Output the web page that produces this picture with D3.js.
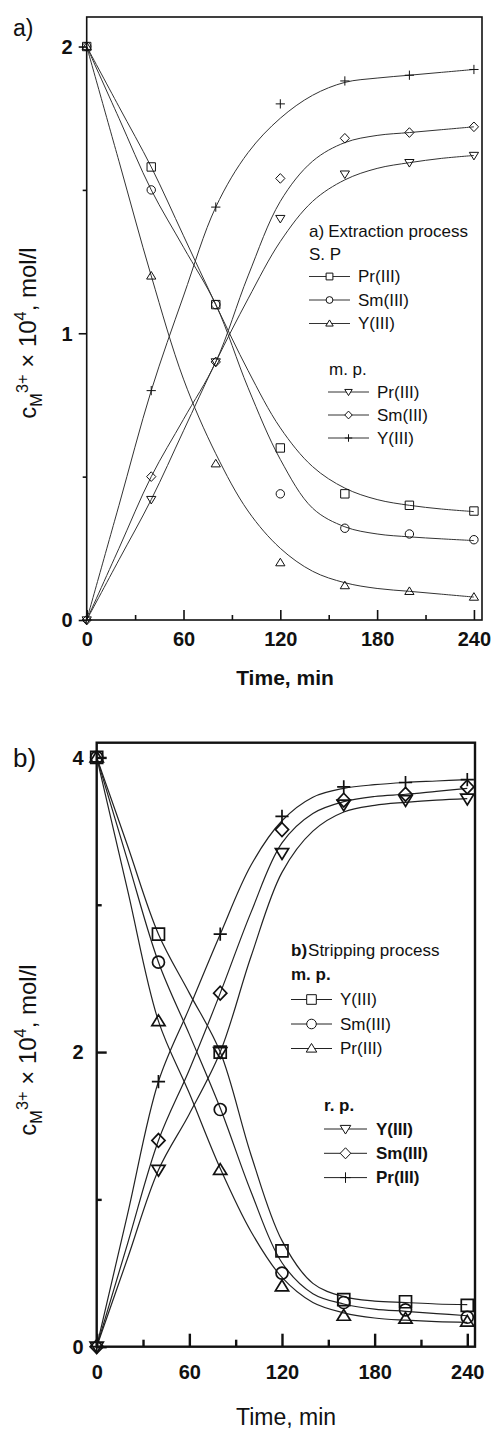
<!DOCTYPE html>
<html><head><meta charset="utf-8">
<script src="https://cdn.jsdelivr.net/npm/d3@7"></script>
<style>
body{margin:0;background:#fff}
svg text{font-family:"Liberation Sans",Arial,Helvetica,sans-serif;fill:#111}
</style>
</head><body>
<svg id="c" width="494" height="1430"></svg>
<script>
// ---------- data ----------
const times = [0, 40, 80, 120, 160, 200, 240];
const fitTimes = [0, 20, 40, 60, 80, 100, 120, 140, 160, 180, 200, 220, 240];
const xTickLabels = [0, 60, 120, 180, 240];
const xMinorTicks = [30, 90, 150, 210];
const aYTicks = [0, 1, 2];
const aYMinor = [0.5, 1.5];
const bYTicks = [0, 2, 4];
const bYMinor = [1, 3];

// panel a) extraction — S. P (descending) and m. p. (ascending)
const aPrSP = [2.00, 1.58, 1.10, 0.60, 0.44, 0.40, 0.38];
const aSmSP = [2.00, 1.50, 1.10, 0.44, 0.32, 0.30, 0.28];
const aYSP  = [2.00, 1.20, 0.545, 0.20, 0.12, 0.10, 0.08];
const aPrMP = [0, 0.42, 0.90, 1.40, 1.555, 1.595, 1.62];
const aSmMP = [0, 0.50, 0.90, 1.54, 1.68, 1.70, 1.72];
const aYMP  = [0, 0.80, 1.44, 1.80, 1.88, 1.90, 1.92];
const aPrSPfit = [2.00, 1.79, 1.58, 1.34, 1.10, 0.87, 0.67, 0.535, 0.46, 0.42, 0.40, 0.387, 0.378];
const aSmSPfit = [2.00, 1.75, 1.50, 1.30, 1.10, 0.81, 0.56, 0.39, 0.325, 0.30, 0.29, 0.283, 0.277];
const aYSPfit  = [2.00, 1.60, 1.20, 0.84, 0.58, 0.38, 0.25, 0.17, 0.13, 0.11, 0.10, 0.09, 0.08];
const aPrMPfit = [0, 0.21, 0.42, 0.66, 0.90, 1.12, 1.32, 1.46, 1.535, 1.575, 1.595, 1.61, 1.62];
const aSmMPfit = [0, 0.25, 0.50, 0.70, 0.90, 1.20, 1.46, 1.60, 1.665, 1.69, 1.70, 1.71, 1.72];
const aYMPfit  = [0, 0.40, 0.80, 1.13, 1.44, 1.63, 1.75, 1.83, 1.875, 1.89, 1.90, 1.91, 1.92];

// panel b) stripping — m. p. (descending) and r. p. (ascending)
const bYMP  = [4, 2.80, 2.00, 0.65, 0.32, 0.305, 0.28];
const bSmMP = [4, 2.61, 1.61, 0.50, 0.30, 0.25, 0.20];
const bPrMP = [4, 2.21, 1.20, 0.41, 0.21, 0.19, 0.17];
const bYRP  = [0, 1.20, 2.00, 3.35, 3.68, 3.71, 3.72];
const bSmRP = [0, 1.40, 2.40, 3.51, 3.71, 3.75, 3.80];
const bPrRP = [0, 1.80, 2.80, 3.60, 3.80, 3.83, 3.85];
const bYMPfit  = [4, 3.40, 2.80, 2.40, 2.00, 1.30, 0.72, 0.43, 0.34, 0.31, 0.30, 0.29, 0.285];
const bSmMPfit = [4, 3.30, 2.61, 2.12, 1.62, 1.05, 0.57, 0.36, 0.29, 0.255, 0.24, 0.225, 0.21];
const bPrMPfit = [4, 3.10, 2.21, 1.72, 1.21, 0.78, 0.47, 0.30, 0.23, 0.195, 0.18, 0.17, 0.165];
const bYRPfit  = [0, 0.60, 1.20, 1.58, 2.00, 2.65, 3.22, 3.50, 3.63, 3.675, 3.695, 3.71, 3.72];
const bSmRPfit = [0, 0.70, 1.40, 1.88, 2.40, 2.95, 3.42, 3.62, 3.70, 3.735, 3.75, 3.77, 3.79];
const bPrRPfit = [0, 0.90, 1.80, 2.30, 2.80, 3.27, 3.57, 3.73, 3.79, 3.815, 3.83, 3.84, 3.85];

const aLegendSP = ["Pr(III)", "Sm(III)", "Y(III)"];
const aLegendMP = ["Pr(III)", "Sm(III)", "Y(III)"];
const bLegendMP = ["Y(III)", "Sm(III)", "Pr(III)"];
const bLegendRP = ["Y(III)", "Sm(III)", "Pr(III)"];

// ---------- helpers ----------
const svg = d3.select("#c");
function sym(type, r) {
  switch (type) {
    case "square": return `M${-r},${-r}H${r}V${r}H${-r}Z`;
    case "circle": return `M${r},0A${r},${r},0,1,1,${-r},0A${r},${r},0,1,1,${r},0Z`;
    case "up": return `M0,${-r*1.05}L${r*1.1},${r*0.75}L${-r*1.1},${r*0.75}Z`;
    case "down": return `M0,${r*1.05}L${r*1.1},${-r*0.75}L${-r*1.1},${-r*0.75}Z`;
    case "diamond": return `M0,${-r*1.15}L${r*1.1},0L0,${r*1.15}L${-r*1.1},0Z`;
    case "plus": return `M${-r*1.1},0H${r*1.1}M0,${-r*1.1}V${r*1.1}`;
  }
}

function drawPanel(p) {
  const g = svg.append("g");
  const x = d3.scaleLinear().domain([0, 245]).range([p.left, p.right]);
  const y = d3.scaleLinear().domain([0, p.ymax]).range([p.bottom, p.top]);
  const line = d3.line().x((d, i) => x(fitTimes[i])).y(d => y(d)).curve(d3.curveCatmullRom.alpha(0.5));

  // fitted curves
  p.series.forEach(s => {
    g.append("path").attr("d", line(s.fit)).attr("fill", "none")
      .attr("stroke", p.lineColor).attr("stroke-width", p.lineW);
  });
  // markers
  p.series.forEach(s => {
    g.selectAll(null).data(s.vals).join("path")
      .attr("transform", (d, i) => `translate(${x(times[i])},${y(d)})`)
      .attr("d", sym(s.type, p.mr)).attr("fill", "none")
      .attr("stroke", "#111").attr("stroke-width", p.mw);
  });

  // axes
  const fs = p.tickFont;
  const xa = g.append("g").attr("transform", `translate(0,${p.bottom})`)
    .call(d3.axisBottom(x).tickValues(xTickLabels).tickSizeInner(-p.xMajor).tickSizeOuter(0).tickPadding(p.xPad));
  const xm = g.append("g").attr("transform", `translate(0,${p.bottom})`)
    .call(d3.axisBottom(x).tickValues(xMinorTicks).tickSizeInner(-p.xMinor).tickSizeOuter(0).tickFormat(""));
  const ya = g.append("g").attr("transform", `translate(${p.left},0)`)
    .call(d3.axisLeft(y).tickValues(p.yTicks).tickSizeInner(p.yMajor).tickSizeOuter(0).tickPadding(p.yPad).tickFormat(d3.format("d")));
  const ym = g.append("g").attr("transform", `translate(${p.left},0)`)
    .call(d3.axisLeft(y).tickValues(p.yMinorTicks).tickSizeInner(p.yMinor).tickSizeOuter(0).tickFormat(""));
  [xa, xm, ya, ym].forEach(a => {
    a.select(".domain").remove();
    a.selectAll("line").attr("stroke", "#111").attr("stroke-width", p.frameW);
    a.selectAll("text").attr("font-size", fs).attr("font-weight", "bold")
      .attr("fill", "#111").style("font-family", '"Liberation Sans",Arial,sans-serif');
  });
  ya.selectAll("text").attr("dy", "0.34em");

  // frame
  g.append("rect").attr("x", p.left).attr("y", p.top)
    .attr("width", p.right - p.left).attr("height", p.bottom - p.top)
    .attr("fill", "none").attr("stroke", "#111").attr("stroke-width", p.frameW);

  // axis titles
  g.append("text").attr("x", p.xTitleX).attr("y", p.xTitleY).attr("text-anchor", "middle")
    .attr("font-size", p.xTitleSize).attr("font-weight", p.xTitleWeight).text("Time, min");
  const yt = g.append("text").attr("transform", `translate(${p.yTitleX},${p.yTitleY}) rotate(-90)`)
    .attr("text-anchor", "middle").attr("font-size", p.yTitleSize);
  yt.append("tspan").text("c");
  yt.append("tspan").attr("dy", 6).attr("font-size", p.yTitleSize * 0.68).text("M");
  yt.append("tspan").attr("dy", -14).attr("font-size", p.yTitleSize * 0.68).text("3+");
  yt.append("tspan").attr("dy", 8).text(" \u00d7 10");
  yt.append("tspan").attr("dy", -10).attr("font-size", p.yTitleSize * 0.68).text("4");
  yt.append("tspan").attr("dy", 10).text(", mol/l");

  // panel label
  g.append("text").attr("x", 13).attr("y", p.labelY).attr("font-size", p.labelSize).text(p.label);

  // legend
  const L = p.legend;
  const lg = g.append("g");
  const title = lg.append("text").attr("x", L.titleX).attr("y", L.titleY).attr("font-size", L.fs);
  title.append("tspan").attr("font-weight", L.titleBold ? "bold" : "normal").text(L.titleA);
  title.append("tspan").attr("dx", L.titleGap).text(L.titleB);
  L.groups.forEach(gr => {
    lg.append("text").attr("x", gr.hx).attr("y", gr.hy).attr("font-size", L.fs)
      .attr("font-weight", gr.headBold ? "bold" : "normal").text(gr.head);
    gr.labels.forEach((lab, i) => {
      const by = gr.y0 + i * gr.dy;
      lg.append("line").attr("x1", gr.x1).attr("x2", gr.x2).attr("y1", by - 5.5).attr("y2", by - 5.5)
        .attr("stroke", p.lineColor).attr("stroke-width", 1);
      lg.append("path").attr("transform", `translate(${(gr.x1 + gr.x2) / 2},${by - 5.5})`)
        .attr("d", sym(gr.types[i], L.mr)).attr("fill", "#fff")
        .attr("stroke", "#111").attr("stroke-width", 1);
      lg.append("text").attr("x", gr.tx).attr("y", by).attr("font-size", L.fs)
        .attr("font-weight", gr.rowBold ? "bold" : "normal").text(lab);
    });
  });
}

// ---------- panel a ----------
drawPanel({
  left: 86.7, right: 482, top: 17, bottom: 620, ymax: 2.103,
  yTicks: aYTicks, yMinorTicks: aYMinor,
  xMajor: 10, xMinor: 5, xPad: 12, yMajor: 8, yMinor: 4, yPad: 6,
  tickFont: 20, frameW: 1.6, lineColor: "#333", lineW: 1, mr: 4.2, mw: 1,
  xTitleX: 285, xTitleY: 685, xTitleSize: 21, xTitleWeight: "bold",
  yTitleX: 36, yTitleY: 333, yTitleSize: 24,
  label: "a)", labelY: 36, labelSize: 23,
  series: [
    {vals: aPrSP, fit: aPrSPfit, type: "square"},
    {vals: aSmSP, fit: aSmSPfit, type: "circle"},
    {vals: aYSP, fit: aYSPfit, type: "up"},
    {vals: aPrMP, fit: aPrMPfit, type: "down"},
    {vals: aSmMP, fit: aSmMPfit, type: "diamond"},
    {vals: aYMP, fit: aYMPfit, type: "plus"}
  ],
  legend: {
    fs: 17, mr: 3.4, titleX: 309, titleY: 237, titleA: "a)", titleB: "Extraction process", titleGap: 4, titleBold: false,
    groups: [
      {head: "S. P", hx: 309, hy: 260, headBold: false, rowBold: false, labels: aLegendSP, types: ["square", "circle", "up"],
       x1: 309, x2: 350, tx: 358, y0: 282, dy: 23.5},
      {head: "m. p.", hx: 329, hy: 375, headBold: false, rowBold: false, labels: aLegendMP, types: ["down", "diamond", "plus"],
       x1: 328, x2: 369, tx: 377, y0: 397.5, dy: 23}
    ]
  }
});

// ---------- panel b ----------
drawPanel({
  left: 96.7, right: 475, top: 742.7, bottom: 1346.7, ymax: 4.1,
  yTicks: bYTicks, yMinorTicks: bYMinor,
  xMajor: 13, xMinor: 7, xPad: 18, yMajor: -10, yMinor: -5, yPad: 13,
  tickFont: 20, frameW: 2.4, lineColor: "#222", lineW: 1.2, mr: 6, mw: 1.7,
  xTitleX: 286, xTitleY: 1425, xTitleSize: 23, xTitleWeight: "normal",
  yTitleX: 36, yTitleY: 1050, yTitleSize: 24,
  label: "b)", labelY: 767, labelSize: 26,
  series: [
    {vals: bYMP, fit: bYMPfit, type: "square"},
    {vals: bSmMP, fit: bSmMPfit, type: "circle"},
    {vals: bPrMP, fit: bPrMPfit, type: "up"},
    {vals: bYRP, fit: bYRPfit, type: "down"},
    {vals: bSmRP, fit: bSmRPfit, type: "diamond"},
    {vals: bPrRP, fit: bPrRPfit, type: "plus"}
  ],
  legend: {
    fs: 17, mr: 4.8, titleX: 291, titleY: 956, titleA: "b)", titleB: "Stripping process", titleGap: 1, titleBold: true,
    groups: [
      {head: "m. p.", hx: 291, hy: 980, headBold: true, rowBold: false, labels: bLegendMP, types: ["square", "circle", "up"],
       x1: 291, x2: 332, tx: 340, y0: 1005, dy: 24.5},
      {head: "r. p.", hx: 324, hy: 1111, headBold: true, rowBold: true, labels: bLegendRP, types: ["down", "diamond", "plus"],
       x1: 324, x2: 367, tx: 376, y0: 1134.5, dy: 24.3}
    ]
  }
});
</script>
</body></html>
